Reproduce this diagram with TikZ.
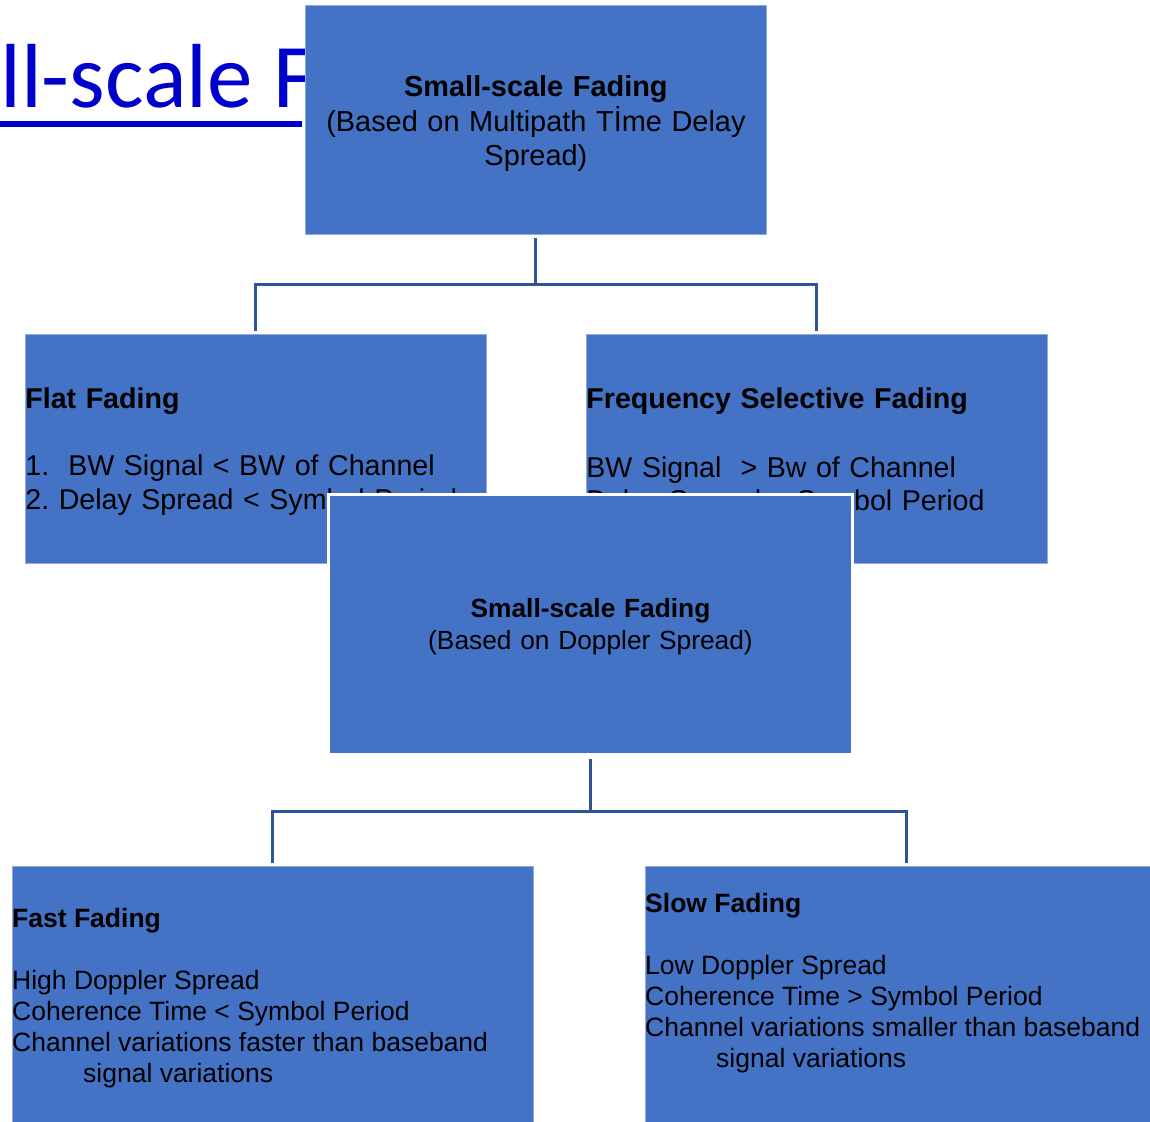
\documentclass[tikz,border=0pt]{standalone}
\usepackage{fontspec}
\setmainfont{Liberation Sans}
\newfontfamily\titlefont{Carlito}
\usetikzlibrary{positioning}
\frenchspacing

\definecolor{boxblue}{HTML}{4472C4}
\definecolor{boxedge}{HTML}{8FAADC}
\definecolor{linkblue}{HTML}{2F5597}
\definecolor{titleblue}{HTML}{0000CC}

\tikzset{
  panel/.style={rectangle, fill=boxblue, draw=boxedge, line width=0.8pt,
    inner sep=0pt, anchor=north west},
  note/.style={align=left, inner sep=0pt, anchor=west,
    font=\fontsize{26.5}{31}\selectfont},
  link/.style={draw=linkblue, line width=3pt, shorten <=3pt, shorten >=3pt}
}

\begin{document}
\begin{tikzpicture}[x=1pt, y=-1pt]
\useasboundingbox (0,0) rectangle (1150,1121);
\clip (0,0) rectangle (1150,1121);

% slide title, mostly hidden behind the first box
\node[anchor=base west, inner sep=0pt, text=titleblue,
  font=\titlefont\fontsize{91}{100}\selectfont] (title) at (0,108) {ll-scale F};
\draw[titleblue, line width=5pt] (0,124) -- (302,124);

% classification by delay spread
\node[panel, minimum width=461pt, minimum height=229pt, text width=461pt,
  align=center, font=\fontsize{28.9}{34.5}\selectfont] (delay) at (305,5)
  {\rule{0pt}{29pt}\textbf{Small-scale Fading}\\(Based on Multipath Tİme Delay\\Spread)};
\node[panel, minimum width=461pt, minimum height=229pt, text width=461pt,
  align=left, font=\fontsize{28.6}{34}\selectfont] (flat) at (25,334)
  {\rule{0pt}{27pt}\textbf{Flat Fading}\\[33pt]1.\ \ BW Signal < BW of Channel\\2. Delay Spread < Symbol Period};
\node[panel, minimum width=461pt, minimum height=229pt, text width=461pt,
  align=left, font=\fontsize{28.6}{32.5}\selectfont] (freq) at (586,334)
  {\rule{0pt}{27pt}\textbf{Frequency Selective Fading}\\[37pt]BW Signal \ > Bw of Channel\\Delay Spread > Symbol Period};

\draw[link] (delay.south) -- ++(0,50) -| (flat.north);
\draw[link] (delay.south) -- ++(0,50) -| (freq.north);

% classification by doppler spread
\node[panel, draw=white, line width=3pt, minimum width=524pt, minimum height=260pt,
  text width=524pt, align=center, font=\fontsize{26.3}{32}\selectfont] (doppler) at (327,493)
  {\rule{0pt}{23pt}\textbf{Small-scale Fading}\\(Based on Doppler Spread)};
\node[panel, minimum width=521pt, minimum height=259pt] (fast) at (12,866) {};
\node[panel, minimum width=523pt, minimum height=259pt] (slow) at (645,866) {};

\node[note] (fastnote) at ([yshift=-132pt]fast.north west)
  {\textbf{Fast Fading}\\[31pt]High Doppler Spread\\Coherence Time < Symbol Period\\
   Channel variations faster than baseband\\\hspace*{71pt}signal variations};
\node[note] (slownote) at ([yshift=-117pt]slow.north west)
  {\textbf{Slow Fading}\\[31pt]Low Doppler Spread\\Coherence Time > Symbol Period\\
   Channel variations smaller than baseband\\\hspace*{71pt}signal variations};

\draw[link] (doppler.south) -- ++(0,55) -| (fast.north);
\draw[link] (doppler.south) -- ++(0,55) -| (slow.north);
\end{tikzpicture}
\end{document}
